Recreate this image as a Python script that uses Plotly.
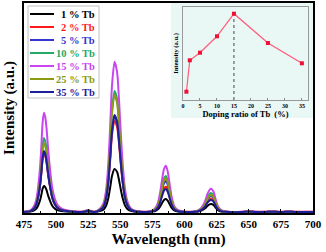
import plotly.graph_objects as go

# ---------------- data ----------------
series_names = ["1 % Tb", "2 % Tb", "5 % Tb", "10 % Tb", "15 % Tb", "25 % Tb", "35 % Tb"]
series_colors = ["#000000", "#ff1a1a", "#3535d0", "#22aa66", "#c845f0", "#8a9a12", "#1e1e9a"]

# peak heights (a.u.) at 490, 545, 585, 621 nm
h490 = [26, 58, 60, 74, 99, 69, 61]
h545 = [43, 91, 96, 121, 150, 117, 97]
h585 = [13, 25, 31, 36, 46, 34, 23]
h621 = [8, 13, 16, 19, 23, 17, 12]
baseline = [1.0, 1.3, 1.0, 1.0, 1.2, 1.0, 1.0]

# normalised band profiles
A_wl = [475, 480, 482.5, 484.5, 486, 487.5, 488.5, 489.5, 490.5, 491.5, 492.5, 494, 495.5, 497, 499, 501, 504, 508, 513]
A_pr = [0.0, 0.015, 0.05, 0.12, 0.25, 0.45, 0.66, 0.9, 1.0, 0.96, 0.85, 0.6, 0.4, 0.24, 0.13, 0.07, 0.035, 0.015, 0.005]
B_wl = [520, 525, 530, 534, 537, 539, 540.5, 542, 543.5, 545.5, 547.5, 549, 550.5, 552, 553.5, 555.5, 558, 562, 567]
B_pr = [0.0, 0.012, 0.0, 0.02, 0.06, 0.15, 0.3, 0.55, 0.84, 1.0, 0.93, 0.74, 0.5, 0.3, 0.16, 0.07, 0.025, 0.005, 0.0]
C_wl = [571, 575, 577.5, 579.5, 581, 582.5, 584, 585.5, 587, 588.5, 590, 592, 595, 600]
C_pr = [0.0, 0.03, 0.09, 0.22, 0.42, 0.7, 0.93, 1.0, 0.86, 0.58, 0.32, 0.12, 0.035, 0.0]
D_wl = [606, 610.5, 613.5, 616, 618, 620.5, 622.5, 624, 626, 628.5, 634]
D_pr = [0.0, 0.06, 0.2, 0.46, 0.8, 1.0, 0.88, 0.58, 0.24, 0.07, 0.0]
E_wl = [645, 650, 655, 663, 668, 673, 677, 681, 686, 700]
E_pr = [0.0, 0.04, 0.0, 0.0, 0.03, 0.0, 0.0, 0.03, 0.0, 0.0]

# inset data
doping_ratio = [1, 2, 5, 10, 15, 25, 35]
inset_intensity = [8.3, 39.7, 47.3, 63.7, 86.3, 57.0, 36.7]

main_xticks = [475, 500, 525, 550, 575, 600, 625, 650, 675, 700]
inset_xticks = [0, 5, 10, 15, 20, 25, 30, 35]

# ---------------- figure ----------------
FONT = "Liberation Serif"
fig = go.Figure()

wl = A_wl + B_wl + C_wl + D_wl + E_wl
for i, name in enumerate(series_names):
    y = ([baseline[i] + h490[i] * p for p in A_pr]
         + [baseline[i] + h545[i] * p for p in B_pr]
         + [baseline[i] + h585[i] * p for p in C_pr]
         + [baseline[i] + h621[i] * p for p in D_pr]
         + [baseline[i] + h621[i] * p for p in E_pr])
    fig.add_trace(go.Scatter(
        x=wl, y=y, mode="lines",
        line=dict(color=series_colors[i], width=2, shape="spline", smoothing=0.7),
        name=name, showlegend=False, xaxis="x", yaxis="y",
    ))

# inset
fig.add_trace(go.Scatter(
    x=[doping_ratio[4], doping_ratio[4]], y=[0, inset_intensity[4]],
    mode="lines", line=dict(color="#444444", width=1, dash="dot"),
    showlegend=False, xaxis="x2", yaxis="y2"))
fig.add_trace(go.Scatter(
    x=doping_ratio, y=inset_intensity, mode="lines+markers",
    line=dict(color="#ff5a7a", width=1.2),
    marker=dict(symbol="square", size=4, color="#ee1133"),
    showlegend=False, xaxis="x2", yaxis="y2"))

L, R, T, B = 24, 13, 3, 39
W, H = 326, 252
pw, ph = W - L - R, H - T - B

def px(x):
    return (x - L) / pw

def py(y):
    return (H - B - y) / ph

# legend drawn by hand (box, line samples, coloured right-aligned labels)
shapes = [dict(type="rect", xref="paper", yref="paper", layer="below",
               x0=px(171), x1=1.0, y0=py(118), y1=1.0,
               fillcolor="#e9f7f5", line=dict(width=0)),
          dict(type="rect", xref="paper", yref="paper",
               x0=px(28), x1=px(99), y0=py(98), y1=py(6),
               fillcolor="white", line=dict(color="#c0c0c0", width=1))]
annotations = []
for i, name in enumerate(series_names):
    yy = 14 + 13 * i
    shapes.append(dict(type="line", xref="paper", yref="paper",
                       x0=px(30), x1=px(54), y0=py(yy), y1=py(yy),
                       line=dict(color=series_colors[i], width=2)))
    annotations.append(dict(xref="paper", yref="paper", x=px(97), y=py(yy),
                            xanchor="right", yanchor="middle", showarrow=False,
                            text=name, font=dict(family=FONT, size=10.5, weight="bold",
                                                 color=series_colors[i])))

fig.update_layout(
    width=W, height=H,
    margin=dict(l=L, r=R, t=T, b=B),
    paper_bgcolor="white",
    plot_bgcolor="rgba(0,0,0,0)",
    font=dict(family=FONT, color="black", weight="bold"),
    showlegend=False,
    xaxis=dict(
        domain=[0, 1], range=[475, 700], tickvals=main_xticks, automargin=False,
        ticks="inside", ticklen=4, tickwidth=1.2, tickcolor="black",
        minor=dict(dtick=12.5, ticks="inside", ticklen=2, tickcolor="black"),
        showline=True, linewidth=1.5, linecolor="black", mirror=True,
        showgrid=False, zeroline=False,
        tickfont=dict(family=FONT, size=11, weight="bold"),
        title=dict(text="Wavelength (nm)", font=dict(family=FONT, size=15.5, weight="bold"), standoff=3),
    ),
    yaxis=dict(
        domain=[0, 1], range=[0, 210], showticklabels=False, ticks="", automargin=False,
        showline=True, linewidth=1.5, linecolor="black", mirror=True,
        showgrid=False, zeroline=False,
        title=dict(text="Intensity (a.u.)", font=dict(family=FONT, size=15, weight="bold"), standoff=4),
    ),
    xaxis2=dict(
        domain=[px(183), px(308)], anchor="y2", range=[0, 36.8], tickvals=inset_xticks,
        automargin=False,
        ticks="inside", ticklen=2, tickcolor="#888888",
        showline=True, linewidth=1, linecolor="#999999", mirror=True,
        showgrid=False, zeroline=False,
        tickfont=dict(family=FONT, size=6, weight="bold"),
        title=dict(text="Doping ratio of Tb  (%)", font=dict(family=FONT, size=8.5, weight="bold"), standoff=1),
    ),
    yaxis2=dict(
        domain=[py(100), py(7)], anchor="x2", range=[0, 93], automargin=False,
        showticklabels=False, ticks="",
        showline=True, linewidth=1, linecolor="#999999", mirror=True,
        showgrid=False, zeroline=False,
        title=dict(text="Intensity (a.u.)", font=dict(family=FONT, size=6.5, weight="bold"), standoff=2),
    ),
    shapes=shapes,
    annotations=annotations,
)

fig.write_html("out.html", config={"displayModeBar": False},
               post_script="document.body.style.margin='0';document.body.style.padding='0';")
